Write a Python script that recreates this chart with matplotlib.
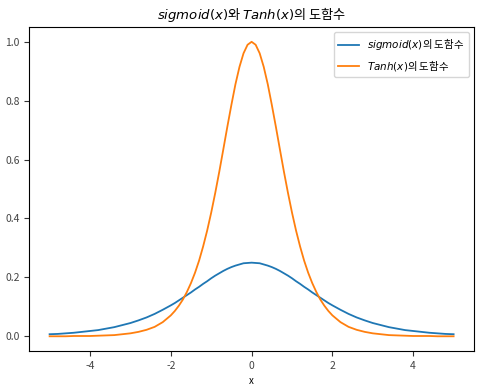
import matplotlib.pyplot as plt

plt.rcParams['font.family'] = ['Noto Sans CJK KR', 'DejaVu Sans']
plt.rcParams['axes.unicode_minus'] = False

x = [-5.0, -4.8, -4.6, -4.4, -4.2, -4.0, -3.8, -3.6, -3.4, -3.2, -3.0,
     -2.8, -2.6, -2.4, -2.2,
     -2.0, -1.9, -1.8, -1.7, -1.6, -1.5, -1.4, -1.3, -1.2, -1.1,
     -1.0, -0.9, -0.8, -0.7, -0.6, -0.5, -0.4, -0.3, -0.2, -0.1,
     0.0,
     0.1, 0.2, 0.3, 0.4, 0.5, 0.6, 0.7, 0.8, 0.9, 1.0,
     1.1, 1.2, 1.3, 1.4, 1.5, 1.6, 1.7, 1.8, 1.9, 2.0,
     2.2, 2.4, 2.6, 2.8, 3.0, 3.2, 3.4, 3.6, 3.8, 4.0,
     4.2, 4.4, 4.6, 4.8, 5.0]

sigmoid_grad = [0.007, 0.008, 0.010, 0.012, 0.015, 0.018, 0.021, 0.026, 0.031, 0.038, 0.045,
                0.054, 0.064, 0.076, 0.090,
                0.105, 0.113, 0.122, 0.131, 0.140, 0.149, 0.159, 0.168, 0.178, 0.187,
                0.197, 0.206, 0.214, 0.222, 0.229, 0.235, 0.240, 0.244, 0.248, 0.249,
                0.250,
                0.249, 0.248, 0.244, 0.240, 0.235, 0.229, 0.222, 0.214, 0.206, 0.197,
                0.187, 0.178, 0.168, 0.159, 0.149, 0.140, 0.131, 0.122, 0.113, 0.105,
                0.090, 0.076, 0.064, 0.054, 0.045, 0.038, 0.031, 0.026, 0.021, 0.018,
                0.015, 0.012, 0.010, 0.008, 0.007]

tanh_grad = [0.000, 0.000, 0.000, 0.001, 0.001, 0.001, 0.002, 0.003, 0.004, 0.007, 0.010,
             0.015, 0.022, 0.032, 0.048,
             0.071, 0.086, 0.104, 0.125, 0.151, 0.181, 0.216, 0.257, 0.305, 0.359,
             0.420, 0.487, 0.559, 0.635, 0.712, 0.786, 0.856, 0.915, 0.961, 0.990,
             1.000,
             0.990, 0.961, 0.915, 0.856, 0.786, 0.712, 0.635, 0.559, 0.487, 0.420,
             0.359, 0.305, 0.257, 0.216, 0.181, 0.151, 0.125, 0.104, 0.086, 0.071,
             0.048, 0.032, 0.022, 0.015, 0.010, 0.007, 0.004, 0.003, 0.002, 0.001,
             0.001, 0.001, 0.000, 0.000, 0.000]

fig = plt.figure(figsize=(4.82, 3.87), dpi=100)
ax = fig.add_axes([0.061, 0.093, 0.922, 0.837])

ax.plot(x, sigmoid_grad, color='#1f77b4', lw=1.3, label='$sigmoid(x)$의 도함수')
ax.plot(x, tanh_grad, color='#ff7f0e', lw=1.3, label='$Tanh(x)$의 도함수')

ax.set_title('$sigmoid(x)$와 $Tanh(x)$의 도함수', fontsize=9.5)
ax.set_xlabel('x', fontsize=7)
ax.set_xticks([-4, -2, 0, 2, 4])
ax.set_yticks([0.0, 0.2, 0.4, 0.6, 0.8, 1.0])
ax.tick_params(labelsize=7.5, colors='#333333', labelcolor='#444444')
ax.legend(loc='upper right', fontsize=7.5)

plt.savefig('out.png', dpi=100)
